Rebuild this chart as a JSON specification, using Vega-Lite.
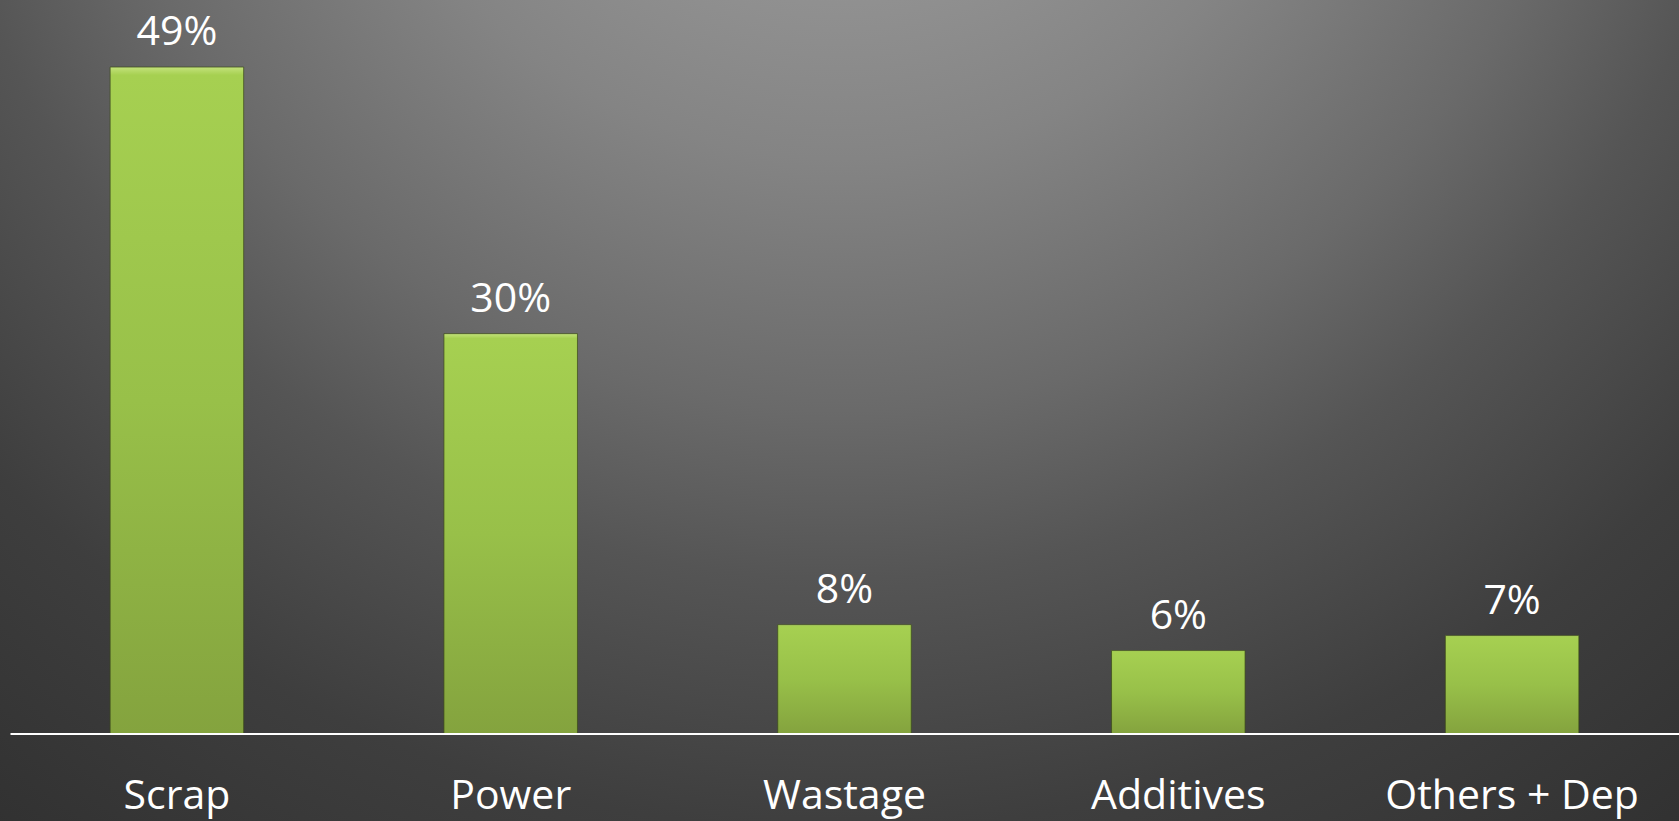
{
  "$schema": "https://vega.github.io/schema/vega-lite/v6.json",
  "width": 1679,
  "height": 821,
  "padding": 0,
  "autosize": "none",
  "background": "#2a2a2a",
  "config": {"view": {"stroke": null}, "font": "Open Sans"},
  "layer": [
    {
      "data": {"values": [{}]},
      "mark": {
        "type": "rect",
        "fill": {
          "gradient": "radial",
          "x1": 0.5, "y1": 0.05, "r1": 0,
          "x2": 0.5, "y2": 0.05, "r2": 1,
          "stops": [
            {"offset": 0, "color": "#a6a6a6"},
            {"offset": 0.1, "color": "#9e9e9e"},
            {"offset": 0.3, "color": "#848484"},
            {"offset": 0.45, "color": "#6a6a6a"},
            {"offset": 0.55, "color": "#555555"},
            {"offset": 0.7, "color": "#3e3e3e"},
            {"offset": 0.9, "color": "#2e2e2e"},
            {"offset": 1, "color": "#2a2a2a"}
          ]
        }
      },
      "encoding": {}
    },
    {
      "data": {
        "values": [
          {"cat": "Scrap", "v": 49, "label": "49%"},
          {"cat": "Power", "v": 29.4, "label": "30%"},
          {"cat": "Wastage", "v": 8.0, "label": "8%"},
          {"cat": "Additives", "v": 6.1, "label": "6%"},
          {"cat": "Others + Dep", "v": 7.2, "label": "7%"}
        ]
      },
      "encoding": {
        "x": {
          "field": "cat",
          "type": "nominal",
          "sort": null,
          "scale": {"range": [10, 1679], "paddingInner": 0.6, "paddingOuter": 0.3},
          "axis": {
            "title": null,
            "orient": "bottom",
            "offset": -87.5,
            "zindex": 1,
            "domainColor": "#ffffff",
            "domainWidth": 2,
            "ticks": false,
            "tickSize": 0,
            "grid": false,
            "labelColor": "#ffffff",
            "labelFont": "Open Sans",
            "labelFontSize": 41,
            "labelLimit": 0,
            "labelOverlap": false,
            "labelPadding": 75,
            "labelBaseline": "alphabetic",
            "labelAngle": 0
          }
        },
        "y": {
          "field": "v",
          "type": "quantitative",
          "scale": {"domain": [-6.43, 53.93], "nice": false, "zero": false},
          "axis": null
        }
      },
      "layer": [
        {
          "mark": {
            "type": "bar",
            "stroke": "#3b4a18",
            "strokeWidth": 1,
            "strokeOpacity": 0.7,
            "fill": {
              "gradient": "linear",
              "x1": 0, "y1": 0, "x2": 0, "y2": 1,
              "stops": [
                {"offset": 0, "color": "#c4e27c"},
                {"offset": 0.012, "color": "#a6d051"},
                {"offset": 0.5, "color": "#98c049"},
                {"offset": 1, "color": "#84a33e"}
              ]
            }
          }
        },
        {
          "mark": {
            "type": "text",
            "baseline": "alphabetic",
            "dy": -22,
            "fontSize": 41,
            "font": "Open Sans",
            "color": "#ffffff"
          },
          "encoding": {"text": {"field": "label"}}
        }
      ]
    }
  ]
}
